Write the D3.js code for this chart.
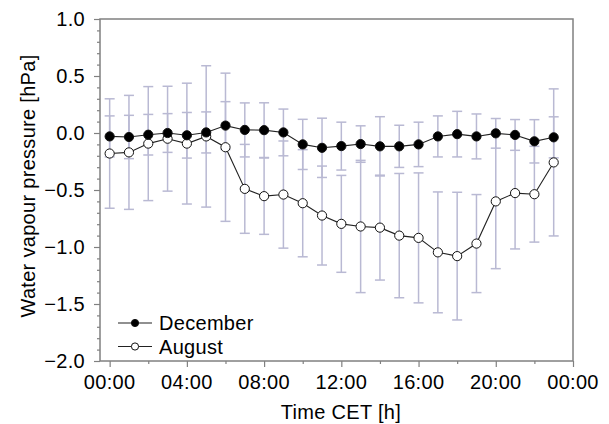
<!DOCTYPE html>
<html>
<head>
<meta charset="utf-8">
<script src="https://cdn.jsdelivr.net/npm/d3@7"></script>
<style>
  body { margin: 0; background: #fff; }
  svg text { font-family: "Liberation Sans", Arial, Helvetica, sans-serif; fill: #000; letter-spacing: 0.3px; }
</style>
</head>
<body>
<svg id="chart" width="609" height="424"></svg>
<script>
// hour of day (CET)
var hours = [0, 1, 2, 3, 4, 5, 6, 7, 8, 9, 10, 11, 12, 13, 14, 15, 16, 17, 18, 19, 20, 21, 22, 23];

// December mean and standard deviation [hPa]
var decMean = [-0.03, -0.035, -0.015, 0.0, -0.02, 0.005, 0.065, 0.027, 0.025, 0.005, -0.10, -0.13,
               -0.115, -0.097, -0.117, -0.117, -0.10, -0.03, -0.01, -0.03, -0.003, -0.017, -0.073, -0.038];
var decSd = [0.18, 0.19, 0.178, 0.17, 0.20, 0.18, 0.21, 0.237, 0.24, 0.205, 0.22, 0.26,
             0.21, 0.16, 0.26, 0.185, 0.195, 0.18, 0.20, 0.197, 0.13, 0.135, 0.19, 0.18];

// August mean and standard deviation [hPa]
var augMean = [-0.18, -0.17, -0.093, -0.05, -0.093, -0.03, -0.125, -0.49, -0.554, -0.54, -0.616, -0.724,
               -0.797, -0.82, -0.83, -0.90, -0.92, -1.047, -1.08, -0.97, -0.60, -0.527, -0.537, -0.258];
var augSd = [0.48, 0.50, 0.50, 0.46, 0.53, 0.62, 0.65, 0.39, 0.335, 0.47, 0.47, 0.434,
             0.425, 0.58, 0.46, 0.545, 0.57, 0.53, 0.56, 0.43, 0.59, 0.49, 0.42, 0.645];

var xTicks = [0, 4, 8, 12, 16, 20, 24];
var xTickLabels = ['00:00', '04:00', '08:00', '12:00', '16:00', '20:00', '00:00'];
var yTicks = [1.0, 0.5, 0.0, -0.5, -1.0, -1.5, -2.0];

var seriesNames = ['December', 'August'];

/** plot box */
var plotLeft = 100, plotRight = 573, plotTop = 19, plotBottom = 361;
var axisColor = '#808080',
    errColor = '#b9b9d3',
    capHalf = 5,
    markerR = 4.6,
    fontSize = 20;

var svg = d3.select('#chart');

var x = d3.scaleLinear().domain([-0.5, 24]).range([plotLeft, plotRight]);
var y = d3.scaleLinear().domain([-2, 1]).range([plotBottom, plotTop]);

var series = [
    { name: seriesNames[0], mean: decMean, sd: decSd, fill: '#000' },
    { name: seriesNames[1], mean: augMean, sd: augSd, fill: '#fff' }
];

// error bars (both series, drawn underneath)
var errG = svg.append('g')
    .attr('stroke', errColor)
    .attr('stroke-width', 1.5)
    .attr('fill', 'none');

series.forEach(function(s) {
    hours.forEach(function(h, i) {
        var hi = y(s.mean[i] + s.sd[i]), lo = y(s.mean[i] - s.sd[i]), cx = x(h);
        errG.append('line').attr('x1', cx).attr('x2', cx).attr('y1', hi).attr('y2', lo);
        errG.append('line').attr('x1', cx - capHalf).attr('x2', cx + capHalf).attr('y1', hi).attr('y2', hi);
        errG.append('line').attr('x1', cx - capHalf).attr('x2', cx + capHalf).attr('y1', lo).attr('y2', lo);
    });
});

// box
svg.append('rect')
    .attr('x', plotLeft).attr('y', plotTop)
    .attr('width', plotRight - plotLeft).attr('height', plotBottom - plotTop)
    .attr('fill', 'none')
    .attr('stroke', axisColor)
    .attr('stroke-width', 1.5);

// lines and markers
var line = d3.line()
    .x(function(d) { return x(d[0]); })
    .y(function(d) { return y(d[1]); });

series.slice().reverse().forEach(function(s) {
    var pts = hours.map(function(h, i) { return [h, s.mean[i]]; });
    svg.append('path')
        .attr('d', line(pts))
        .attr('fill', 'none')
        .attr('stroke', '#222')
        .attr('stroke-width', 1.1);
    svg.append('g').selectAll('circle')
        .data(pts)
        .enter()
        .append('circle')
        .attr('cx', function(d) { return x(d[0]); })
        .attr('cy', function(d) { return y(d[1]); })
        .attr('r', markerR)
        .attr('fill', s.fill)
        .attr('stroke', '#111')
        .attr('stroke-width', 1);
});

// y axis
var yAxis = d3.axisLeft(y)
    .tickValues(d3.range(-20, 11).map(function(v) { return v / 10; }))
    .tickSize(0)
    .tickFormat('');
var yG = svg.append('g').attr('transform', 'translate(' + plotLeft + ',0)');
yG.call(yAxis);
yG.select('.domain').remove();
yG.selectAll('.tick line')
    .attr('stroke', axisColor)
    .attr('stroke-width', 1.2)
    .attr('x2', function(d) {
        return yTicks.some(function(t) { return Math.abs(t - d) < 1e-6; }) ? -6 : -3;
    });
yG.selectAll('.ylab')
    .data(yTicks)
    .enter()
    .append('text')
    .attr('x', -15)
    .attr('y', function(d) { return y(d); })
    .attr('dy', '0.36em')
    .attr('text-anchor', 'end')
    .attr('font-size', fontSize)
    .text(function(d) { return d3.format('.1f')(d); });

// x axis
var xAxis = d3.axisBottom(x)
    .tickValues([0, 2, 4, 6, 8, 10, 12, 14, 16, 18, 20, 22, 24])
    .tickSize(0)
    .tickFormat('');
var xG = svg.append('g').attr('transform', 'translate(0,' + plotBottom + ')');
xG.call(xAxis);
xG.select('.domain').remove();
xG.selectAll('.tick line')
    .attr('stroke', axisColor)
    .attr('stroke-width', 1.2)
    .attr('y2', function(d) { return d % 4 === 0 ? 6 : 3; });
xG.selectAll('.xlab')
    .data(xTicks)
    .enter()
    .append('text')
    .attr('x', function(d) { return x(d); })
    .attr('y', 28)
    .attr('text-anchor', 'middle')
    .attr('font-size', fontSize)
    .text(function(d, i) { return xTickLabels[i]; });

// axis titles
svg.append('text')
    .attr('x', 341)
    .attr('y', 419)
    .attr('text-anchor', 'middle')
    .attr('font-size', fontSize)
    .text('Time CET [h]');

svg.append('text')
    .attr('transform', 'translate(35,186) rotate(-90)')
    .attr('text-anchor', 'middle')
    .attr('font-size', fontSize)
    .text('Water vapour pressure [hPa]');

// legend
var legend = svg.append('g').attr('transform', 'translate(118,323)');
series.forEach(function(s, i) {
    var g = legend.append('g').attr('transform', 'translate(0,' + (i * 23.5) + ')');
    g.append('line')
        .attr('x1', 0).attr('x2', 34)
        .attr('stroke', '#222').attr('stroke-width', 1.1);
    g.append('circle')
        .attr('cx', 17).attr('r', 3.6)
        .attr('fill', s.fill).attr('stroke', '#111').attr('stroke-width', 1);
    g.append('text')
        .attr('x', 41)
        .attr('dy', '0.36em')
        .attr('font-size', fontSize)
        .text(s.name);
});
</script>
</body>
</html>
